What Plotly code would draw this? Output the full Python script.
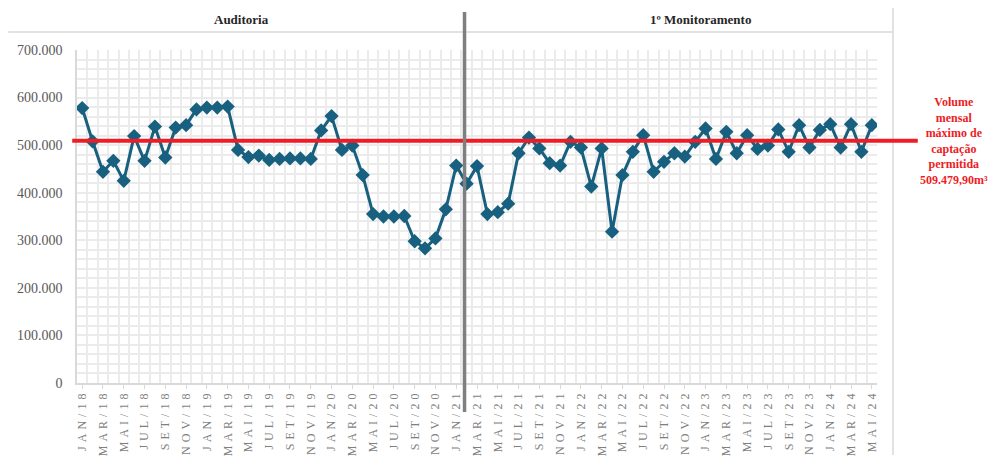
import plotly.graph_objects as go

MONTHS = ["JAN", "FEV", "MAR", "ABR", "MAI", "JUN", "JUL", "AGO", "SET", "OUT", "NOV", "DEZ"]
YEARS = ["18", "19", "20", "21", "22", "23", "24"]
categories = [f"{m}/{y}" for y in YEARS for m in MONTHS][:77]  # JAN/18 .. MAI/24

volume = [
    578000, 508000, 444000, 467000, 425000, 519000, 467000, 539000, 474000, 537000,
    542000, 575000, 579000, 579000, 581000, 490000, 475000, 478000, 469000, 471000,
    472000, 472000, 471000, 531000, 561000, 490000, 499000, 437000, 355000, 350000,
    350000, 351000, 298000, 283000, 304000, 365000, 457000, 419000, 456000, 355000,
    359000, 377000, 483000, 516000, 493000, 462000, 457000, 507000, 495000, 413000,
    493000, 318000, 437000, 486000, 521000, 444000, 465000, 483000, 476000, 507000,
    535000, 471000, 528000, 483000, 521000, 492000, 499000, 533000, 486000, 542000,
    495000, 532000, 544000, 495000, 544000, 486000, 542000,
]

limit_value = 509479.90
limit_text = "Volume<br>mensal<br>máximo de<br>captação<br>permitida<br>509.479,90m³"
section_labels = ["Auditoria", "1º Monitoramento"]

tick_labels = categories[::2]
tick_positions = list(range(0, len(categories), 2))
tick_text = ["\u2004".join(t) for t in tick_labels]

y_tickvals = [0, 100000, 200000, 300000, 400000, 500000, 600000, 700000]
y_ticktext = ["0", "100.000", "200.000", "300.000", "400.000", "500.000", "600.000", "700.000"]

x_idx = list(range(len(categories)))

fig = go.Figure()
fig.add_trace(go.Scatter(
    x=x_idx, y=volume, customdata=categories,
    mode="lines+markers",
    line=dict(color="#17607f", width=3),
    marker=dict(symbol="diamond", size=11, color="#17607f"),
    hovertemplate="%{customdata}: %{y}<extra></extra>",
    showlegend=False,
))

grid_c = "#ebebeb"
fig.update_layout(
    width=991, height=451,
    margin=dict(l=69, r=122, t=42, b=76),
    paper_bgcolor="white", plot_bgcolor="white",
    xaxis=dict(
        automargin=False,
        range=[-0.5, len(categories) - 0.5],
        tickmode="array", tickvals=tick_positions, ticktext=tick_text,
        tickangle=-90,
        tickfont=dict(family="Liberation Serif", size=12, color="#7f7f7f"),
        showgrid=False, zeroline=False,
        showline=True, linecolor="#d9d9d9", linewidth=1.5,
        ticks="outside", ticklen=4, tickcolor="#d9d9d9",
        minor=dict(tickmode="linear", tick0=-0.5, dtick=1, showgrid=True,
                   gridcolor=grid_c, gridwidth=1.5),
    ),
    yaxis=dict(
        automargin=False,
        range=[0, 700000],
        tickmode="array", tickvals=y_tickvals, ticktext=y_ticktext,
        tickfont=dict(family="Liberation Serif", size=14, color="#595959"),
        showgrid=True, gridcolor=grid_c, gridwidth=1.5,
        zeroline=False,
        showline=True, linecolor="#d9d9d9", linewidth=1.5,
        ticks="", ticklabelstandoff=10,
        minor=dict(tickmode="linear", tick0=0, dtick=20000, showgrid=True,
                   gridcolor=grid_c, gridwidth=1.5),
    ),
)

# header separator line and right border
fig.add_shape(type="line", xref="paper", yref="paper", x0=-0.086, x1=1.02,
              y0=1.054, y1=1.054, line=dict(color="#d9d9d9", width=1.5))
fig.add_shape(type="line", xref="paper", yref="paper", x0=1.02, x1=1.02,
              y0=-0.216, y1=1.126, line=dict(color="#d9d9d9", width=1.5))

# limit line
fig.add_shape(type="line", xref="paper", yref="y", x0=-0.006, x1=1.051,
              y0=limit_value, y1=limit_value, line=dict(color="#ee1c24", width=4))

# divider between phases
fig.add_shape(type="line", xref="x", yref="paper", x0=36.8, x1=36.8,
              y0=-0.087, y1=1.114, line=dict(color="#7f7f7f", width=3.5))

fig.add_annotation(text=f"<b>{section_labels[0]}</b>", xref="paper", yref="paper",
                   x=0.206, y=1.093, showarrow=False, xanchor="center", yanchor="middle",
                   font=dict(family="Liberation Serif", size=13, color="#262626"))
fig.add_annotation(text=f"<b>{section_labels[1]}</b>", xref="paper", yref="paper",
                   x=0.779, y=1.093, showarrow=False, xanchor="center", yanchor="middle",
                   font=dict(family="Liberation Serif", size=13, color="#262626"))
fig.add_annotation(text=f"<b>{limit_text}</b>", xref="paper", yref="paper",
                   x=1.096, y=0.727, showarrow=False, align="center",
                   xanchor="center", yanchor="middle",
                   font=dict(family="Liberation Serif", size=12, color="#ee1c24"))

fig.write_html("out.html")
